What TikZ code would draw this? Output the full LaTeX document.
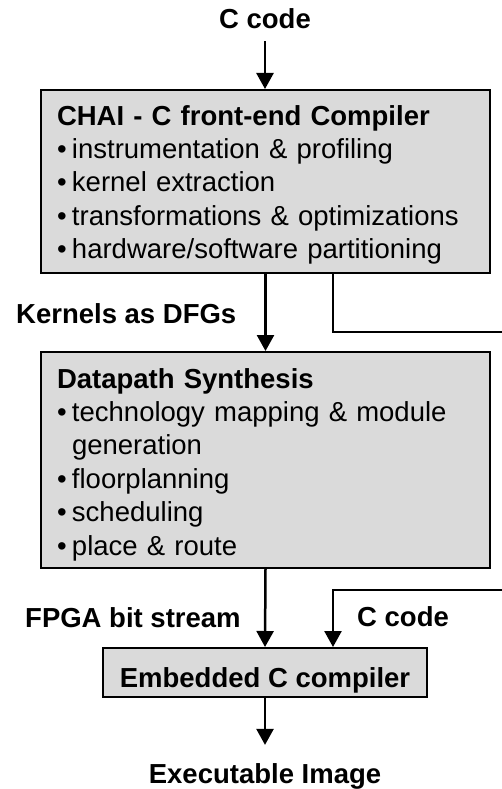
\documentclass[tikz,border=0pt]{standalone}
\usepackage{fontspec}
\setmainfont{Liberation Sans}
\usetikzlibrary{arrows.meta}
\usetikzlibrary{positioning}
\setlength{\parindent}{0pt}
\definecolor{boxgray}{RGB}{218,218,218}
\newcommand{\bul}{\makebox[15pt][l]{\textbullet}} % bullet with hanging space

\begin{document}
\begin{tikzpicture}[x=1pt, y=-1pt,
    every node/.style={font=\fontsize{27.5pt}{33.4pt}\selectfont},
    stage/.style={draw, line width=2pt, fill=boxgray, inner xsep=16pt, align=left},
    lbl/.style={font=\fontsize{27.5pt}{33.4pt}\selectfont\bfseries, inner sep=0pt},
    flow/.style={line width=2.5pt, -{Triangle[width=17pt,length=16pt]}}]

  \useasboundingbox (0,0) rectangle (502,789);

  \node[lbl, anchor=base] (src) at (265,29) {C code};

  \node[stage, minimum width=449pt, minimum height=183pt, text width=417pt,
        text height=20pt, text depth=133pt] (chai) at (265.5,181.5)
    {\textbf{CHAI - C front-end Compiler}\\
     \bul instrumentation \& profiling\\
     \bul kernel extraction\\
     \bul transformations \& optimizations\\
     \bul hardware/software partitioning};

  \node[lbl, anchor=base west] (kern) at (16,323) {Kernels as DFGs};

  \node[stage, minimum width=449pt, minimum height=216pt, text width=417pt,
        text height=20pt, text depth=164pt] (dps) at (265.5,460)
    {\textbf{Datapath Synthesis}\\
     \bul technology mapping \& module\\
     \hspace*{15pt}generation\\
     \bul floorplanning\\
     \bul scheduling\\
     \bul place \& route};

  \node[lbl, anchor=base west] (fpga) at (25,627) {FPGA bit stream};
  \node[lbl, anchor=base west] (csrc) at (357,626) {C code};

  \node[stage, align=center, minimum width=324pt, minimum height=49pt,
        text height=29pt, text depth=0pt, font=\fontsize{27.5pt}{33.4pt}\selectfont\bfseries]
        (ecc) at (265,672.5) {Embedded C compiler};

  \node[lbl, anchor=base] (exe) at (265,783) {Executable Image};

  % software path leaves the page on the right and comes back
  \coordinate (swA) at (333,332);
  \coordinate (swB) at (333,590);
  \coordinate (far) at (540,460);

  \draw[flow] ([yshift=-12pt]src.south) -- (src.south |- chai.north);
  \draw[flow] (chai.south) -- (dps.north);
  \draw[flow] (dps.south) -- (ecc.north);
  \draw[flow] (ecc.south) -- ([yshift=18pt]exe.north);
  \draw[flow] (chai.south -| swA) -- (swA) -- (swA -| far) -- (swB -| far) -- (swB) -- (ecc.north -| swB);

\end{tikzpicture}
\end{document}
